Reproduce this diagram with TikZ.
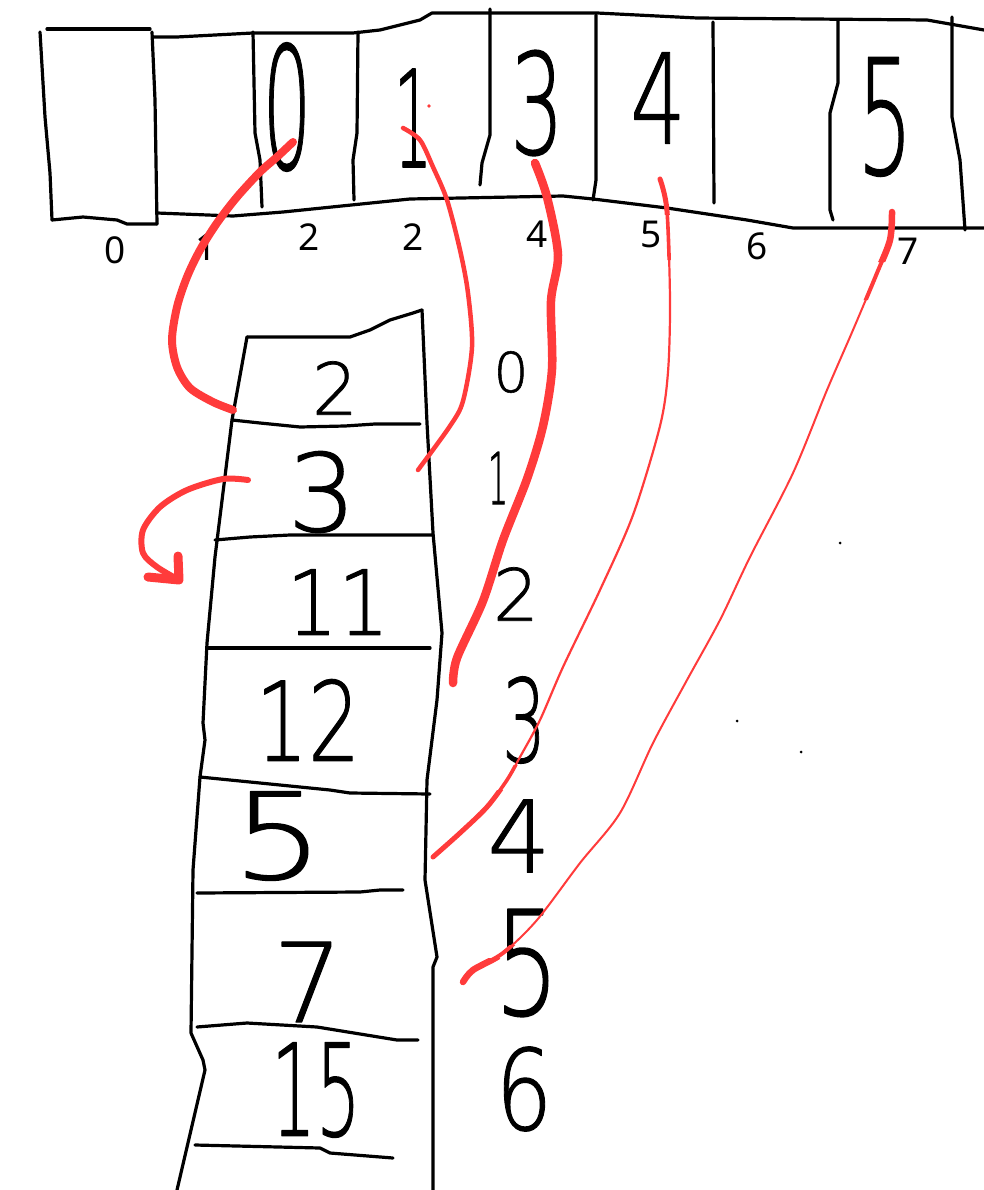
\documentclass[tikz,border=0pt]{standalone}
\usepackage{fontspec}
\setmainfont{Noto Sans}
\newfontfamily\hand{DejaVu Sans ExtraLight}[FakeBold=1]
\definecolor{penred}{RGB}{255,59,59}
\begin{document}
\begin{tikzpicture}[x=1pt,y=-1pt,
  line join=round, line cap=round,
  ink/.style={draw=black, line width=3.2pt},
  idx/.style={inner sep=0pt, font=\fontsize{37}{37}\selectfont},
  hw/.style={inner sep=0pt, font=\hand\fontsize{#1}{#1}\selectfont},
  redline/.style={draw=penred, line width=#1},
  dot/.style={fill=#1},
]
\useasboundingbox (0,0) rectangle (984,1190);

% ---------- top strip ----------
\draw[ink] (40,32) -- (45,117) -- (50,173) -- (52,220);
\draw[ink] (47,29) -- (150,29);
\draw[ink] (52,220) -- (83,217) -- (117,220) -- (127,224) -- (157,224);
\draw[ink] (152,32) -- (155,100) -- (157,224);
\draw[ink] (153,37) -- (177,37) -- (253,33) -- (353,33) -- (380,30) -- (420,20) -- (432,13) -- (597,13) -- (697,18) -- (927,20) -- (984,30);
\draw[ink] (157,213) -- (233,216) -- (283,212) -- (410,199) -- (563,196) -- (593,199) -- (667,208) -- (747,220) -- (793,228) -- (984,228);
\draw[ink] (253,32) -- (255,133) -- (260,160) -- (262,207);
\draw[ink] (358,32) -- (357,133) -- (353,160) -- (354,200);
\draw[ink] (490,9) -- (490,135) -- (482,163) -- (480,185);
\draw[ink] (596,15) -- (596,180) -- (593,200);
\draw[ink] (713,22) -- (714,203);
\draw[ink] (838,20) -- (838,83) -- (830,113) -- (830,210) -- (833,220);
\draw[ink] (952,17) -- (952,117) -- (960,160) -- (965,230);

% handwritten digits in the strip
\node[hw=170] (t0) at (287,107) {\scalebox{0.45}[1]{0}};
\node[hw=135] (t1) at (413,118) {\scalebox{0.45}[1]{1}};
\node[hw=140] (t3) at (537,103) {\scalebox{0.6}[1]{3}};
\node[hw=125] (t4) at (658,98) {\scalebox{0.7}[1]{4}};
\node[hw=160] (t5) at (885,117) {\scalebox{0.55}[1]{5}};

% index labels under the strip
\node[idx] (i0) at (115,250) {0};
\node[idx] (i1) at (206,247) {1};
\node[idx] (i2) at (309,237) {2};
\node[idx] (i3) at (413,237) {2};
\node[idx] (i4) at (537,234) {4};
\node[idx] (i5) at (651,234) {5};
\node[idx] (i6) at (757,246) {6};
\node[idx] (i7) at (908,251) {7};

% ---------- stack ----------
\draw[ink] (247,337) -- (232,420) -- (215,557) -- (207,643) -- (203,723) -- (205,740) -- (200,777) -- (193,870) -- (191,1033) -- (203,1060) -- (205,1070) -- (177,1190);
\draw[ink] (247,337) -- (350,337) -- (370,330) -- (390,320) -- (413,313) -- (422,310);
\draw[ink] (422,310) -- (427,423) -- (433,533) -- (442,633) -- (437,700) -- (427,780) -- (425,880) -- (437,957) -- (433,967) -- (433,1190);
\draw[ink] (232,420) -- (260,423) -- (300,427) -- (345,426) -- (375,424) -- (420,424);
\draw[ink] (215,540) -- (250,537) -- (290,535) -- (400,535) -- (433,535);
\draw[ink] (207,648) -- (430,648);
\draw[ink] (200,777) -- (250,782) -- (330,790) -- (350,793) -- (430,794);
\draw[ink] (197,893) -- (360,892) -- (380,890) -- (403,890);
\draw[ink] (197,1027) -- (247,1023) -- (317,1027) -- (397,1040) -- (418,1040);
\draw[ink] (195,1145) -- (320,1148) -- (330,1153) -- (393,1158);

% cell contents
\node[hw=72]  (c2)  at (335,388)  {2};
\node[hw=108] (c3)  at (322,492)  {3};
\node[hw=90]  (c11) at (338,602)  {\scalebox{0.9}[1]{11}};
\node[hw=110] (c12) at (308,720)  {\scalebox{0.75}[1]{12}};
\node[hw=120] (c5)  at (278,836)  {\scalebox{1.2}[1]{5}};
\node[hw=110] (c7)  at (308,982)  {7};
\node[hw=128] (c15) at (316,1090) {\scalebox{0.55}[1]{15}};

% right index column
\node[hw=55]  (r0) at (511,372)  {0};
\node[hw=72]  (r1) at (498,478)  {\scalebox{0.45}[1]{1}};
\node[hw=72]  (r2) at (516,594)  {2};
\node[hw=115] (r3) at (524,720)  {\scalebox{0.6}[1]{3}};
\node[hw=100] (r4) at (519,836)  {4};
\node[hw=145] (r5) at (527,963)  {\scalebox{0.7}[1]{5}};
\node[hw=112] (r6) at (524,1089) {\scalebox{0.8}[1]{6}};

% stray dots
\fill[dot=penred] (429,106) circle (1.8);
\fill[dot=black] (840,543) circle (1.5);
\fill[dot=black] (737,721) circle (1.5);
\fill[dot=black] (801,752) circle (1.5);

% ---------- red connectors ----------
\coordinate (A0) at (293,142);  \coordinate (A1) at (233,410);
\coordinate (B0) at (403,128);  \coordinate (B1) at (418,470);
\coordinate (C0) at (535,163);  \coordinate (C1) at (453,683);
\coordinate (D0) at (660,179);  \coordinate (D1) at (433,857);
\coordinate (E0) at (892,212);  \coordinate (E1) at (463,982);
\coordinate (F0) at (248,480);  \coordinate (F1) at (179,580);

\draw[redline=8pt] plot[smooth] coordinates {(A0) (277,157) (260,172) (237,197) (217,223) (200,250) (187,277) (177,307) (172,340) (177,367) (190,388) (213,402) (A1)};
\draw[redline=4.5pt] plot[smooth] coordinates {(B0) (420,140) (433,167) (447,200) (460,250) (468,293) (472,347) (463,401) (450,426) (B1)};
\draw[redline=8.5pt] plot[smooth] coordinates {(C0) (547,197) (558,255) (551,301) (552,369) (543,426) (527,479) (503,540) (483,601) (457,658) (C1)};

\path[save path=\pathD] plot[smooth] coordinates {(D0) (667,211) (670,301) (668,372) (660,426) (633,515) (600,590) (563,667) (540,720) (520,757) (507,780) (487,807) (460,833) (D1)};
\draw[redline=2.2pt, use path=\pathD];
\begin{scope}
  \clip (620,150) rectangle (700,215) (400,790) rectangle (520,880);
  \draw[redline=5pt, use path=\pathD];
\end{scope}
\begin{scope}
  \clip (620,150) rectangle (700,260) (400,765) rectangle (540,880);
  \draw[redline=3.6pt, use path=\pathD];
\end{scope}

\path[save path=\pathE] plot[smooth] coordinates {(E0) (890,240) (877,273) (853,330) (827,390) (793,473) (750,557) (720,620) (687,680) (653,743) (620,813) (580,863) (537,920) (503,953) (473,970) (E1)};
\draw[redline=2pt, use path=\pathE];
\begin{scope}
  \clip (840,190) rectangle (920,262) (440,958) rectangle (500,1000);
  \draw[redline=6.5pt, use path=\pathE];
\end{scope}
\begin{scope}
  \clip (840,190) rectangle (920,300) (440,945) rectangle (520,1000);
  \draw[redline=4pt, use path=\pathE];
\end{scope}

\draw[redline=6pt] plot[smooth] coordinates {(F0) (223,479) (187,490) (160,507) (143,530) (143,553) (157,567) (F1)};
\draw[redline=9pt] (F1) -- (178,556) (F1) -- (148,577);
\end{tikzpicture}
\end{document}
